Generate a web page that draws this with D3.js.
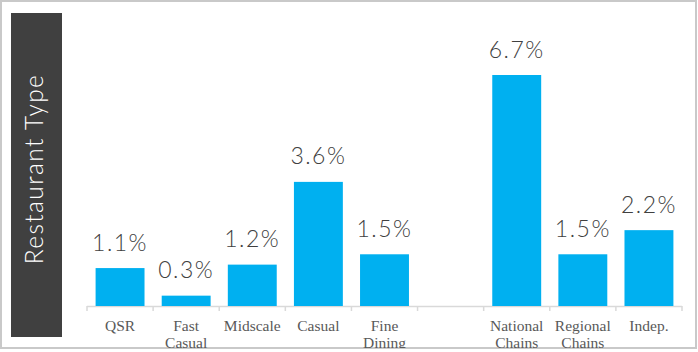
<!DOCTYPE html>
<html>
<head>
<meta charset="utf-8">
<script src="https://cdn.jsdelivr.net/npm/d3@7/dist/d3.min.js"></script>
<style>
  html, body { margin: 0; padding: 0; background: #fff; }
  svg { display: block; }
</style>
</head>
<body>
<div id="chart"></div>
<script>
// chart data
const categories = ["QSR", "Fast Casual", "Midscale", "Casual", "Fine Dining", "", "National Chains", "Regional Chains", "Indep."];
const values = [1.1, 0.3, 1.2, 3.6, 1.5, null, 6.7, 1.5, 2.2];
const sideTitle = "Restaurant Type";

const W = 698, H = 352;
const svg = d3.select("#chart").append("svg")
    .attr("width", W)
    .attr("height", H);

// clip everything inside the frame
svg.append("clipPath").attr("id", "frame")
  .append("rect").attr("x", 1).attr("y", 1).attr("width", 695).attr("height", 347);

// outer frame
svg.append("rect")
    .attr("x", 1).attr("y", 1)
    .attr("width", 695).attr("height", 347)
    .attr("fill", "#fff")
    .attr("stroke", "#c9c9c9")
    .attr("stroke-width", 2);

let g = svg.append("g").attr("clip-path", "url(#frame)");

// dark side panel with the title
g.append("rect")
    .attr("x", 11).attr("y", 13)
    .attr("width", 51).attr("height", 324)
    .attr("fill", "#404040");

g.append("text")
    .attr("transform", "translate(43,169) rotate(-90)")
    .attr("text-anchor", "middle")
    .style("font-family", "Lato, 'Open Sans', sans-serif")
    .style("font-weight", 300)
    .style("font-size", "24.5px")
    .style("letter-spacing", "1.4px")
    .attr("fill", "#fff")
    .text(sideTitle);

let x = d3.scaleBand()
    .domain(categories)
    .range([87, 682])
    .paddingInner(0.26)
    .paddingOuter(0.13);

let y = d3.scaleLinear()
    .domain([0, 6.7])
    .range([306, 75]);

// axis line + ticks between categories
let x0 = x.range()[0], step = x.step();
g.append("line")
    .attr("x1", x0).attr("x2", x.range()[1])
    .attr("y1", y(0) + 0.5).attr("y2", y(0) + 0.5)
    .attr("stroke", "#d9d9d9")
    .attr("stroke-width", 1.5);

g.selectAll(".tick")
  .data(d3.range(categories.length + 1))
  .enter().append("line")
    .attr("class", "tick")
    .attr("x1", i => x0 + i * step).attr("x2", i => x0 + i * step)
    .attr("y1", y(0)).attr("y2", y(0) + 5)
    .attr("stroke", "#d9d9d9")
    .attr("stroke-width", 1.5);

let items = categories.map((c, i) => ({cat: c, val: values[i]})).filter(d => d.val !== null);

g.selectAll(".bar")
  .data(items)
  .enter().append("rect")
    .attr("class", "bar")
    .attr("x", d => x(d.cat))
    .attr("y", d => y(d.val))
    .attr("width", x.bandwidth())
    .attr("height", d => y(0) - y(d.val))
    .attr("fill", "#00b0f0");

g.selectAll(".val")
  .data(items)
  .enter().append("text")
    .attr("class", "val")
    .attr("x", d => x(d.cat) + x.bandwidth() / 2)
    .attr("y", d => y(d.val) - 17.5)
    .attr("text-anchor", "middle")
    .style("font-family", "Lato, 'Open Sans', sans-serif")
    .style("font-weight", 300)
    .style("font-size", "23px")
    .style("letter-spacing", "1.5px")
    .attr("fill", "#404040")
    .text(d => d.val.toFixed(1) + "%");

// category labels, split on spaces
let lbl = g.selectAll(".cat")
  .data(categories.filter(c => c !== ""))
  .enter().append("text")
    .attr("class", "cat")
    .attr("x", d => x(d) + x.bandwidth() / 2)
    .attr("y", 331)
    .attr("text-anchor", "middle")
    .style("font-family", "'Liberation Serif', 'Times New Roman', serif")
    .style("font-size", "15.5px")
    .attr("fill", "#595959");

lbl.selectAll("tspan")
  .data(d => d.split(" "))
  .enter().append("tspan")
    .attr("x", function() { return d3.select(this.parentNode).attr("x"); })
    .attr("dy", (d, i) => i === 0 ? 0 : 17)
    .text(d => d);
</script>
</body>
</html>
